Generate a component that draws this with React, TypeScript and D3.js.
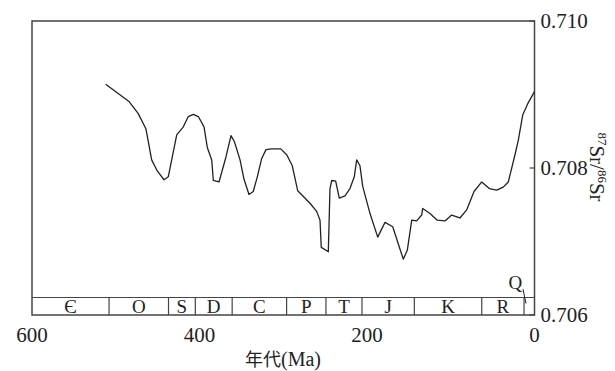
import React from "react";
import * as d3 from "d3";

const ages = [512.0, 483.8, 473.1, 463.9, 457.1, 450.4, 442.4, 437.3, 427.2, 419.3, 413.4, 407.4, 401.4, 394.6, 390.7, 385.4, 383.5, 376.7, 368.4, 362.4, 358.4, 351.6, 346.9, 340.9, 335.8, 331.0, 325.7, 320.6, 313.8, 303.0, 295.9, 289.2, 282.7, 268.1, 260.1, 256.1, 254.6, 246.2, 244.2, 242.1, 237.4, 233.1, 226.3, 220.3, 215.2, 212.3, 208.4, 205.1, 196.4, 187.2, 178.5, 169.3, 156.7, 151.9, 146.6, 140.7, 134.7, 133.5, 124.8, 116.1, 106.9, 98.9, 89.0, 81.0, 72.2, 63.0, 54.0, 45.1, 37.3, 31.3, 23.3, 19.3, 14.1, 7.4, 0];
const srRatio = [0.70914, 0.7089, 0.70874, 0.70853, 0.70811, 0.70796, 0.70784, 0.70788, 0.70845, 0.70856, 0.7087, 0.70873, 0.7087, 0.70856, 0.70828, 0.70811, 0.70783, 0.70781, 0.70815, 0.70844, 0.70836, 0.70811, 0.70785, 0.70764, 0.70768, 0.70788, 0.70813, 0.70825, 0.70826, 0.70826, 0.70818, 0.70803, 0.70769, 0.70752, 0.70741, 0.70729, 0.70692, 0.70686, 0.70772, 0.70783, 0.70782, 0.70759, 0.70762, 0.70772, 0.70788, 0.70811, 0.70803, 0.70775, 0.70738, 0.70706, 0.70726, 0.7072, 0.70676, 0.70688, 0.70729, 0.70728, 0.70736, 0.70745, 0.70738, 0.70729, 0.70728, 0.70736, 0.70732, 0.70743, 0.70768, 0.70781, 0.70772, 0.7077, 0.70774, 0.70781, 0.70818, 0.70838, 0.70872, 0.70889, 0.70904];

const periodNames = ["Є", "O", "S", "D", "C", "P", "T", "J", "K", "R", "Q"];
const periodBounds = [600, 508, 437, 405, 361, 296, 249, 206, 143.5, 63, 12.5, 0];

const xTicks = [600, 400, 200, 0];
const yTicks = [0.706, 0.708, 0.71];

const W = 615;
const H = 371;
const left = 32;
const right = 534.5;
const top = 21;
const bottom = 315;
const bandTop = 297.5;

export default function App() {
  const x = d3.scaleLinear().domain([600, 0]).range([left, right]);
  const y = d3.scaleLinear().domain([0.706, 0.71]).range([bottom, top]);
  const pts: [number, number][] = ages.map((a, i) => [a, srRatio[i]]);
  const line = d3
    .line<[number, number]>()
    .x((d) => x(d[0]))
    .y((d) => y(d[1]));
  const serif = "Liberation Serif";
  const stroke = "#444";
  const qx = x(6);
  return (
    <svg
      width={W}
      height={H}
      style={{ position: "absolute", left: 0, top: 0, background: "#fff", fontFamily: serif }}
    >
      <rect x={left} y={top} width={right - left} height={bottom - top} fill="none" stroke={stroke} strokeWidth={1.5} />
      <line x1={left} x2={right} y1={bandTop} y2={bandTop} stroke={stroke} strokeWidth={1.2} />
      {periodBounds.slice(1, -1).map((b, i) => (
        <line key={"b" + i} x1={x(b)} x2={x(b)} y1={bandTop} y2={bottom} stroke={stroke} strokeWidth={1.2} />
      ))}
      {periodNames.slice(0, -1).map((n, i) => (
        <text
          key={"p" + i}
          x={(x(periodBounds[i]) + x(periodBounds[i + 1])) / 2}
          y={bottom - 2.5}
          textAnchor="middle"
          fontSize={19}
          fill="#222"
          style={{ fontFamily: serif }}
        >
          {n}
        </text>
      ))}
      <text x={qx - 14} y={289} textAnchor="middle" fontSize={19} fill="#222" style={{ fontFamily: serif }}>
        {periodNames[periodNames.length - 1]}
      </text>
      <line x1={qx - 6.5} y1={289} x2={qx - 3.5} y2={303.5} stroke="#222" strokeWidth={1} />
      {yTicks.map((t, i) => (
        <g key={"y" + i}>
          <line x1={right - 5} x2={right} y1={y(t)} y2={y(t)} stroke={stroke} strokeWidth={1.2} />
          <text x={right + 6} y={y(t) + 7} fontSize={21} fill="#222" style={{ fontFamily: serif }}>
            {d3.format(".3f")(t)}
          </text>
        </g>
      ))}
      {xTicks.map((t, i) => (
        <text key={"x" + i} x={x(t)} y={342} textAnchor="middle" fontSize={21} fill="#222" style={{ fontFamily: serif }}>
          {t}
        </text>
      ))}
      <text x={283} y={366} textAnchor="middle" fontSize={20} fill="#222" style={{ fontFamily: serif }}>
        <tspan style={{ fontFamily: "Noto Sans CJK SC" }} fontSize={18}>年代</tspan>
        <tspan>(Ma)</tspan>
      </text>
      <text transform={`translate(590,167) rotate(90)`} textAnchor="middle" fontSize={21} fill="#222" style={{ fontFamily: serif }}>
        <tspan fontSize={13} dy={-8}>87</tspan>
        <tspan dy={8}>Sr/</tspan>
        <tspan fontSize={13} dy={-8}>86</tspan>
        <tspan dy={8}>Sr</tspan>
      </text>
      <path d={line(pts) || ""} fill="none" stroke="#222" strokeWidth={1.3} strokeLinejoin="round" />
    </svg>
  );
}
